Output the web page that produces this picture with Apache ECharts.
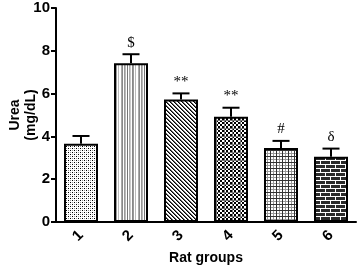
<!DOCTYPE html>
<html>
<head>
<meta charset="utf-8">
<script src="https://cdn.jsdelivr.net/npm/echarts@6/dist/echarts.min.js"></script>
<style>
  html, body { margin: 0; padding: 0; background: #fff; }
  #chart { width: 362px; height: 268px; }
</style>
</head>
<body>
<div id="chart"></div>
<script>
const groups = ['1', '2', '3', '4', '5', '6'];
const means = [3.66, 7.42, 5.73, 4.92, 3.46, 3.05];
const sems = [0.36, 0.42, 0.28, 0.42, 0.33, 0.38];
const marks = ['', '$', '**', '**', '#', 'δ'];
const yTicks = [0, 2, 4, 6, 8, 10];

// little canvas tiles for the bar fills
function tile(w, h, draw) {
  const c = document.createElement('canvas');
  c.width = w; c.height = h;
  const ctx = c.getContext('2d');
  ctx.fillStyle = '#fff';
  ctx.fillRect(0, 0, w, h);
  draw(ctx);
  return { image: c, repeat: 'repeat' };
}

const fills = [
  // stipple
  tile(4, 4, ctx => {
    ctx.fillStyle = '#000'; ctx.fillRect(0, 0, 1, 1); ctx.fillRect(2, 2, 1, 1);
    ctx.fillStyle = '#999'; ctx.fillRect(2, 0, 1, 1); ctx.fillRect(0, 2, 1, 1);
  }),
  // vertical stripes
  tile(17, 4, ctx => {
    const cols = ['#fff', '#fff', '#aaa', '#888', '#fff', '#999', '#bbb', '#fff', '#777',
                  '#fff', '#aaa', '#ccc', '#fff', '#888', '#999', '#fff', '#bbb'];
    cols.forEach((c, i) => { ctx.fillStyle = c; ctx.fillRect(i, 0, 1, 4); });
  }),
  // diagonal hatch
  tile(4, 4, ctx => {
    ctx.fillStyle = '#000';
    for (let i = 0; i < 4; i++) ctx.fillRect(i, i, 1, 1);
    ctx.fillStyle = '#666';
    for (let i = 0; i < 4; i++) ctx.fillRect((i + 1) % 4, i, 1, 1);
  }),
  // checkerboard
  tile(8, 8, ctx => {
    ctx.fillStyle = '#000';
    for (let y = 0; y < 8; y += 2)
      for (let x = 0; x < 8; x += 2)
        if (((x + y) / 2) % 2 === 0) ctx.fillRect(x, y, 2, 2);
    ctx.fillStyle = '#777';
    ctx.fillRect(0, 0, 8, 1); ctx.fillRect(0, 0, 1, 8);
  }),
  // plaid grid
  tile(6, 6, ctx => {
    ctx.fillStyle = '#999';
    ctx.fillRect(0, 0, 6, 1); ctx.fillRect(0, 3, 6, 1);
    ctx.fillRect(0, 0, 1, 6); ctx.fillRect(3, 0, 1, 6);
    ctx.fillStyle = '#333';
    ctx.fillRect(0, 0, 6, 1); ctx.fillRect(0, 0, 1, 6);
  }),
  // brick
  tile(10, 8, ctx => {
    ctx.fillStyle = '#2a2a2a'; ctx.fillRect(0, 0, 10, 8);
    ctx.fillStyle = '#fff';
    ctx.fillRect(0, 0, 10, 1); ctx.fillRect(0, 4, 10, 1);
    ctx.fillRect(0, 1, 1, 3); ctx.fillRect(5, 5, 1, 3);
  })
];

const chart = echarts.init(document.getElementById('chart'), null, { renderer: 'canvas' });
const font = 'Liberation Sans, Arial, sans-serif';

chart.setOption({
  animation: false,
  grid: { left: 56, right: 6, top: 8, bottom: 46, containLabel: false, outerBoundsMode: 'none' },
  xAxis: {
    type: 'category',
    data: groups,
    name: 'Rat groups',
    nameLocation: 'middle',
    nameGap: 29,
    nameMoveOverlap: false,
    nameTextStyle: { color: '#000', fontSize: 14, fontWeight: 'bold', fontFamily: font },
    axisLine: { lineStyle: { color: '#000', width: 2 } },
    axisTick: { alignWithLabel: true, length: 5, lineStyle: { color: '#000', width: 2 } },
    axisLabel: { rotate: 45, margin: 11, color: '#000', fontSize: 15, fontWeight: 'bold', fontFamily: font }
  },
  yAxis: {
    type: 'value',
    min: yTicks[0],
    max: yTicks[yTicks.length - 1],
    interval: 2,
    name: 'Urea\n(mg/dL)',
    nameLocation: 'middle',
    nameRotate: 90,
    nameGap: 17,
    nameMoveOverlap: false,
    nameTextStyle: { color: '#000', fontSize: 14, fontWeight: 'bold', fontFamily: font, lineHeight: 16 },
    splitLine: { show: false },
    axisLine: { show: true, lineStyle: { color: '#000', width: 2 } },
    axisTick: { show: true, length: 5, lineStyle: { color: '#000', width: 2 } },
    axisLabel: { margin: 6, color: '#000', fontSize: 15, fontWeight: 'bold', fontFamily: font }
  },
  series: [
    {
      type: 'bar',
      barWidth: 34,
      data: means.map((v, i) => ({
        value: v,
        itemStyle: { color: fills[i], borderColor: '#000', borderWidth: 2 }
      })),
      z: 2
    },
    {
      type: 'custom',
      z: 3,
      data: means.map((v, i) => [i, v, v + sems[i], marks[i]]),
      renderItem: (params, api) => {
        const base = api.coord([api.value(0), api.value(1)]);
        const top = api.coord([api.value(0), api.value(2)]);
        const half = 8.5;
        const style = { stroke: '#000', lineWidth: 2 };
        const children = [
          { type: 'line', shape: { x1: base[0], y1: base[1], x2: top[0], y2: top[1] }, style },
          { type: 'line', shape: { x1: top[0] - half, y1: top[1], x2: top[0] + half, y2: top[1] }, style }
        ];
        const mark = marks[params.dataIndex];
        if (mark) {
          children.push({
            type: 'text',
            style: {
              text: mark, x: top[0], y: top[1] - 4,
              align: 'center', verticalAlign: 'bottom',
              fill: '#000', font: '15px "Liberation Serif", "Times New Roman", serif'
            }
          });
        }
        return { type: 'group', children };
      }
    }
  ]
});
</script>
</body>
</html>
